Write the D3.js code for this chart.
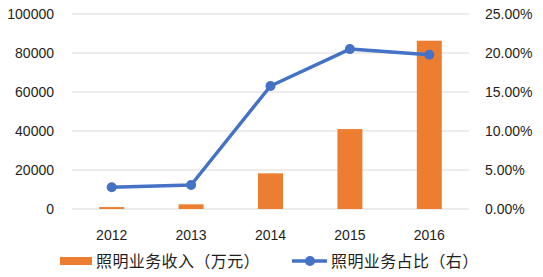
<!DOCTYPE html>
<html>
<head>
<meta charset="utf-8">
<script src="https://cdn.jsdelivr.net/npm/d3@7"></script>
<style>
  body { margin: 0; background: #fff; }
  svg text { font-family: "Liberation Sans", Arial, sans-serif; fill: #1e1e1e; }
  .cjk { font-family: "Noto Sans CJK SC", sans-serif; }
</style>
</head>
<body>
<svg width="543" height="277"></svg>
<script>
const years = ["2012", "2013", "2014", "2015", "2016"];
const revenue = [1000, 2400, 18300, 41000, 86300];
const share = [0.0278, 0.0308, 0.1577, 0.205, 0.1978];
const leftTicks = [0, 20000, 40000, 60000, 80000, 100000];
const rightTicks = [0, 0.05, 0.1, 0.15, 0.2, 0.25];
const barLabel = "照明业务收入（万元）";
const lineLabel = "照明业务占比（右）";

const orange = "#ED7D31";
const blue = "#4472C4";

const svg = d3.select("svg");
const plotLeft = 72, plotRight = 469, plotTop = 14, plotBottom = 209;

const x = d3.scaleBand().domain(years).range([plotLeft, plotRight]);
const yL = d3.scaleLinear().domain([0, 100000]).range([plotBottom, plotTop]);
const yR = d3.scaleLinear().domain([0, 0.25]).range([plotBottom, plotTop]);

// gridlines
svg.append("g")
  .selectAll("line")
  .data(leftTicks)
  .join("line")
  .attr("x1", plotLeft).attr("x2", plotRight)
  .attr("y1", (d) => yL(d)).attr("y2", (d) => yL(d))
  .attr("stroke", "#d9d9d9").attr("stroke-width", 1);

// left axis labels
svg.append("g")
  .selectAll("text")
  .data(leftTicks)
  .join("text")
  .attr("x", 54).attr("y", (d) => yL(d))
  .attr("dy", "0.35em").attr("text-anchor", "end")
  .attr("font-size", 14)
  .text((d) => d);

// right axis labels
svg.append("g")
  .selectAll("text")
  .data(rightTicks)
  .join("text")
  .attr("x", 485).attr("y", (d) => yR(d))
  .attr("dy", "0.35em")
  .attr("font-size", 14)
  .text((d) => d3.format(".2%")(d));

// bars
const bw = 25;
svg.append("g")
  .selectAll("rect")
  .data(revenue)
  .join("rect")
  .attr("x", (d, i) => x(years[i]) + x.bandwidth() / 2 - bw / 2)
  .attr("width", bw)
  .attr("y", (d) => yL(d))
  .attr("height", (d) => plotBottom - yL(d))
  .attr("fill", orange);

// line
const line = d3.line()
  .x((d, i) => x(years[i]) + x.bandwidth() / 2)
  .y((d) => yR(d));
svg.append("path")
  .datum(share)
  .attr("d", line)
  .attr("fill", "none")
  .attr("stroke", blue)
  .attr("stroke-width", 3.5)
  .attr("stroke-linejoin", "round");
svg.append("g")
  .selectAll("circle")
  .data(share)
  .join("circle")
  .attr("cx", (d, i) => x(years[i]) + x.bandwidth() / 2)
  .attr("cy", (d) => yR(d))
  .attr("r", 5)
  .attr("fill", blue);

// x labels
svg.append("g")
  .selectAll("text")
  .data(years)
  .join("text")
  .attr("x", (d) => x(d) + x.bandwidth() / 2)
  .attr("y", 235.5)
  .attr("dy", "0.35em")
  .attr("text-anchor", "middle")
  .attr("font-size", 14)
  .text((d) => d);

// legend
const ly = 261;
svg.append("rect")
  .attr("x", 60).attr("y", ly - 4).attr("width", 32).attr("height", 8)
  .attr("fill", orange);
svg.append("text")
  .attr("class", "cjk")
  .attr("x", 96).attr("y", ly).attr("dy", "0.35em")
  .attr("font-size", 16)
  .attr("letter-spacing", 0.4)
  .text(barLabel);
svg.append("line")
  .attr("x1", 292).attr("x2", 327).attr("y1", ly).attr("y2", ly)
  .attr("stroke", blue).attr("stroke-width", 3.5);
svg.append("circle")
  .attr("cx", 310).attr("cy", ly).attr("r", 5).attr("fill", blue);
svg.append("text")
  .attr("class", "cjk")
  .attr("x", 331).attr("y", ly).attr("dy", "0.35em")
  .attr("font-size", 16)
  .attr("letter-spacing", 0.4)
  .text(lineLabel);
</script>
</body>
</html>
